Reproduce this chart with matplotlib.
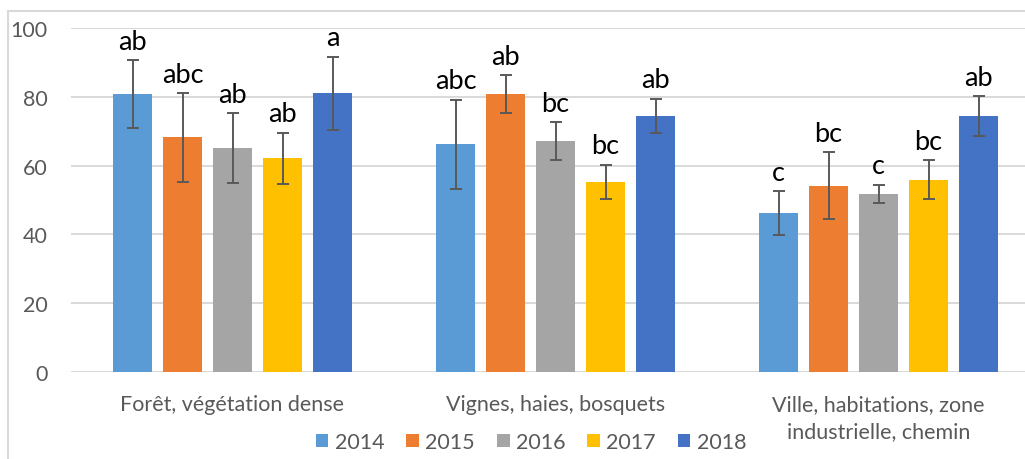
import matplotlib.pyplot as plt
import numpy as np
from matplotlib.patches import Rectangle

plt.rcParams['font.family'] = ['Lato', 'DejaVu Sans']

categories = ['Forêt, végétation dense', 'Vignes, haies, bosquets',
              'Ville, habitations, zone\nindustrielle, chemin']
years = ['2014', '2015', '2016', '2017', '2018']
colors = ['#5B9BD5', '#ED7D31', '#A5A5A5', '#FFC000', '#4472C4']

# mean per year, one value per category
means = {
    '2014': [80.8, 66.2, 46.2],
    '2015': [68.2, 80.8, 54.2],
    '2016': [65.1, 67.2, 51.8],
    '2017': [62.1, 55.3, 55.9],
    '2018': [81.0, 74.5, 74.3],
}
errors = {
    '2014': [10.0, 13.0, 6.3],
    '2015': [13.0, 5.5, 9.7],
    '2016': [10.3, 5.5, 2.7],
    '2017': [7.5, 5.0, 5.6],
    '2018': [10.7, 5.0, 5.8],
}
letters = {
    '2014': ['ab', 'abc', 'c'],
    '2015': ['abc', 'ab', 'bc'],
    '2016': ['ab', 'bc', 'c'],
    '2017': ['ab', 'bc', 'bc'],
    '2018': ['a', 'ab', 'ab'],
}

fig = plt.figure(figsize=(10.25, 4.6), dpi=100)
fig.patches.append(Rectangle((8 / 1025, -0.1), 1.2, 1 - 12 / 460 + 0.1,
                             transform=fig.transFigure, fill=False,
                             edgecolor='#D9D9D9', lw=1.5))
ax = fig.add_axes([71 / 1025, 1 - 373 / 460, 969 / 1025, 344 / 460])

x = np.arange(len(categories))
step = 50 / 323
width = 39 / 323
for i, y in enumerate(years):
    pos = x + (i - 2) * step
    ax.bar(pos, means[y], width, color=colors[i], label=y, zorder=2)
    ax.errorbar(pos, means[y], yerr=errors[y], fmt='none', ecolor='#595959',
                elinewidth=1.4, capsize=4.5, capthick=1.4, zorder=3)
    for p, m, e, t in zip(pos, means[y], errors[y], letters[y]):
        ax.annotate(t, (p, m + e), xytext=(0, 8), textcoords='offset points',
                    ha='center', va='baseline', fontsize=19.5, color='black')

ax.set_ylim(0, 100)
ax.set_xlim(-0.5, 2.5)
ax.set_yticks(range(0, 101, 20))
ax.yaxis.grid(True, color='#D9D9D9', lw=1.4, zorder=0)
ax.set_axisbelow(True)
for s in ax.spines.values():
    s.set_visible(False)
ax.set_xticks(x)
ax.set_xticklabels(categories, linespacing=1.45)
ax.tick_params(axis='both', length=0, labelsize=15.5, labelcolor='#595959')
ax.tick_params(axis='y', pad=17)
ax.tick_params(axis='x', pad=16)

fig.legend(loc='center', bbox_to_anchor=(531 / 1025, 1 - 443 / 460), ncol=5,
           frameon=False, fontsize=15.5, handlelength=0.6, handleheight=0.6,
           handletextpad=0.3, columnspacing=1.0, labelcolor='#595959')

fig.savefig('out.png')
